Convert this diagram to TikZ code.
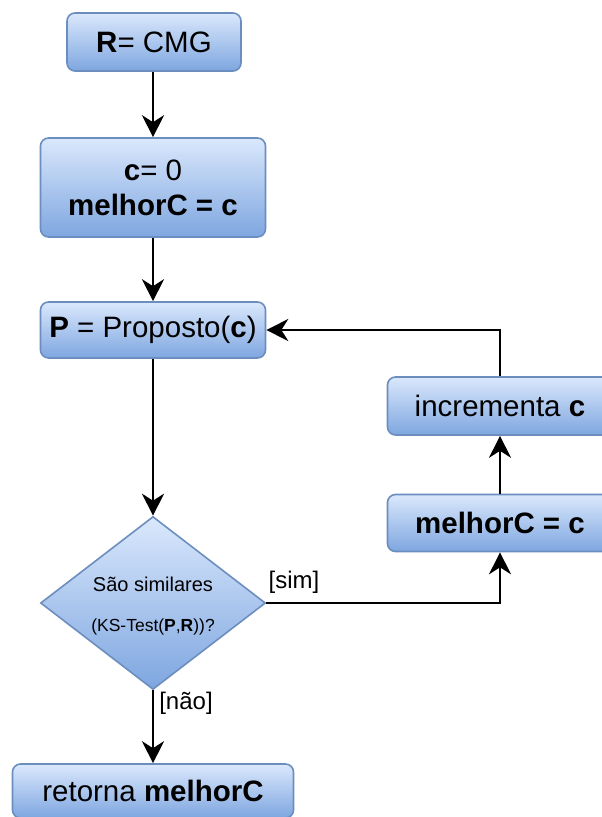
\documentclass[tikz,border=0pt]{standalone}
\usepackage{fontspec}
\setmainfont{Liberation Sans}
\usetikzlibrary{arrows.meta,shapes.geometric,positioning}
\definecolor{topc}{HTML}{DAE8FC}
\definecolor{botc}{HTML}{7EA6E0}
\definecolor{strokec}{HTML}{6C8EBF}
\tikzset{
  box/.style={draw=strokec, line width=1.6pt, rounded corners=8pt, top color=topc, bottom color=botc,
    minimum width=225pt, inner sep=0pt, align=center, font=\fontsize{29.5}{35}\selectfont},
  dia/.style={draw=strokec, line width=1.6pt, shape=diamond, top color=topc, bottom color=botc,
    minimum width=225pt, minimum height=173pt, inner sep=0pt, aspect=1.3},
  arr/.style={line width=2.2pt, -{Stealth[length=22pt,width=22pt,inset=7pt]}},
  lbl/.style={font=\fontsize{24}{28}\selectfont, inner sep=0pt},
}
\begin{document}
\begin{tikzpicture}[x=1pt,y=1pt]
\useasboundingbox (0,0) rectangle (602,-817);
\node[box, minimum width=174pt, minimum height=58pt] (R) at (154,-42) {\textbf{R}= CMG};
\node[box, minimum height=99pt] (C) at (153,-187.5) {\textbf{c}= 0\\[0pt]\textbf{melhorC = c}};
\node[box, minimum height=56pt] (P) at (153,-330) {\textbf{P} = Proposto(\textbf{c})};
\node[dia] (D) at (153,-603) {};
\node[font=\fontsize{20}{24}\selectfont] (Dt1) at (153,-584) {São similares};
\node[font=\fontsize{17.5}{20}\selectfont] (Dt2) at (153,-627) {(KS-Test(\textbf{P},\textbf{R}))?};
\node[box, minimum width=281pt, minimum height=54pt] (Ret) at (153,-791) {retorna \textbf{melhorC}};
\node[box, minimum height=58pt] (Inc) at (500,-406) {incrementa \textbf{c}};
\node[box, minimum height=57pt] (M) at (500,-523) {\textbf{melhorC = c}};
\draw[arr] (R.south -| C.north) -- (C.north);
\draw[arr] (C) -- (P);
\draw[arr] (P) -- (D);
\draw[arr] (D) -- (Ret);
\node[lbl] (nao) at (186,-703) {[não]};
\draw[arr] (D.east) -| (M.south);
\node[lbl] (sim) at (294,-582) {[sim]};
\draw[arr] (M) -- (Inc);
\draw[arr] (Inc.north) |- (P.east);
\end{tikzpicture}
\end{document}
